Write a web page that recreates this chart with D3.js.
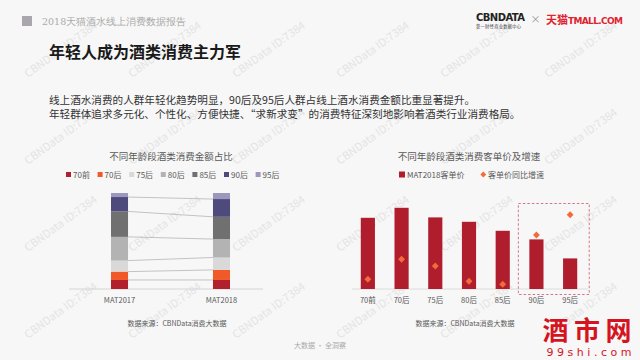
<!DOCTYPE html>
<html>
<head>
<meta charset="utf-8">
<script src="https://cdn.jsdelivr.net/npm/d3@7"></script>
<style>
  html, body { margin: 0; padding: 0; background: #f7f7f7; }
  svg { display: block; }
</style>
</head>
<body>
<svg id="chart" width="640" height="360"></svg>
<script>
// ---- data ----
const ageGroups = ["70前", "70后", "75后", "80后", "85后", "90后", "95后"];
const periods = ["MAT2017", "MAT2018"];
const share2017 = [9.4, 8.7, 11.5, 24.7, 26.5, 15.0, 4.2];
const share2018 = [9.4, 10.5, 12.9, 19.2, 23.2, 18.5, 6.3];
const unitPrice2018 = [356, 406, 358, 336, 291, 248, 153];
const priceGrowth = [9.7, 29.7, 23.0, 7.7, 4.7, 54.0, 74.3];
const shareColors = ["#b2202e", "#f05a28", "#d9d9d9", "#b3b3b3", "#707070", "#4f4a7c", "#9c98bd"];

const FONT = "'Noto Sans CJK SC', 'Noto Sans', sans-serif";
const svg = d3.select("#chart");

svg.append("rect").attr("width", 640).attr("height", 360).attr("fill", "#f7f7f7");

// watermark pattern
const wm = svg.append("g").attr("class", "watermark");
for (let r = 0; r < 4; r++) {
    for (let c = 0; c < 6; c++) {
        wm.append("text")
            .attr("transform", `translate(${28 + c * 104},${78 + r * 87}) rotate(-36)`)
            .attr("font-family", FONT)
            .attr("font-size", 11)
            .attr("fill", "#e4e4e4")
            .text("CBNData ID:7384");
    }
}

// ---- header ----
svg.append("rect").attr("x", 22).attr("y", 16).attr("width", 10).attr("height", 10).attr("fill", "#a9a7ad");
svg.append("text").attr("x", 42).attr("y", 24.5)
    .attr("font-family", "'DejaVu Serif', serif").attr("font-size", 9.5).attr("fill", "#aaa")
    .text("2018天猫酒水线上消费数据报告");

svg.append("text").attr("x", 49).attr("y", 57.5)
    .attr("font-family", FONT).attr("font-size", 16).attr("font-weight", "bold").attr("fill", "#1a1a1a")
    .text("年轻人成为酒类消费主力军");

// logos
svg.append("text").attr("x", 476).attr("y", 21)
    .attr("font-family", "'DejaVu Sans', sans-serif").attr("font-size", 10).attr("font-weight", "bold")
    .attr("fill", "#222").attr("textLength", 49).text("CBNDATA");
svg.append("text").attr("x", 476).attr("y", 28)
    .attr("font-family", FONT).attr("font-size", 4.2).attr("fill", "#444")
    .attr("textLength", 45).text("第一财经商业数据中心");
svg.append("text").attr("x", 535.5).attr("y", 23).attr("text-anchor", "middle")
    .attr("font-family", FONT).attr("font-size", 10).attr("fill", "#999").text("×");
svg.append("text").attr("x", 546).attr("y", 24)
    .attr("font-family", FONT).attr("font-size", 11).attr("font-weight", "bold").attr("fill", "#e0232e")
    .text("天猫");
svg.append("text").attr("x", 568).attr("y", 23.5)
    .attr("font-family", "'DejaVu Sans', sans-serif").attr("font-size", 9).attr("font-weight", "bold")
    .attr("fill", "#e0232e").attr("textLength", 55).text("TMALL.COM");

// body text
svg.append("text").attr("x", 49).attr("y", 104)
    .attr("font-family", FONT).attr("font-size", 10.6).attr("fill", "#333")
    .text("线上酒水消费的人群年轻化趋势明显，90后及95后人群占线上酒水消费金额比重显著提升。");
svg.append("text").attr("x", 49).attr("y", 117.8)
    .attr("font-family", FONT).attr("font-size", 10.6).attr("fill", "#333")
    .text("年轻群体追求多元化、个性化、方便快捷、“求新求变”的消费特征深刻地影响着酒类行业消费格局。");

// ---- left chart: share of spending ----
const left = svg.append("g").attr("class", "share-chart");
left.append("text").attr("x", 171).attr("y", 160).attr("text-anchor", "middle")
    .attr("font-family", FONT).attr("font-size", 9.5).attr("fill", "#595959")
    .text("不同年龄段酒类消费金额占比");

ageGroups.forEach((g, i) => {
    const lx = 66 + i * 31.6;
    left.append("rect").attr("x", lx).attr("y", 172).attr("width", 5).attr("height", 5).attr("fill", shareColors[i]);
    left.append("text").attr("x", lx + 7).attr("y", 177.5)
        .attr("font-family", FONT).attr("font-size", 8).attr("fill", "#595959").text(g);
});

const xShare = d3.scaleBand().domain(periods).range([68.5, 272.5]).paddingInner(0.833).paddingOuter(0.4167);
const yShare = d3.scaleLinear().domain([0, 100]).range([289, 193]);

const shareRows = periods.map((p, j) => {
    const row = { period: p };
    const vals = j === 0 ? share2017 : share2018;
    ageGroups.forEach((g, i) => row[g] = vals[i]);
    return row;
});
const stacked = d3.stack().keys(ageGroups)(shareRows);

left.append("line").attr("x1", 69).attr("x2", 263).attr("y1", yShare(0)).attr("y2", yShare(0))
    .attr("stroke", "#d4d4d4").attr("stroke-width", 1);

left.selectAll("g.layer").data(stacked).join("g").attr("class", "layer")
    .attr("fill", (d, i) => shareColors[i])
    .selectAll("rect").data(d => d).join("rect")
    .attr("x", d => xShare(d.data.period))
    .attr("y", d => yShare(d[1]))
    .attr("height", d => yShare(d[0]) - yShare(d[1]))
    .attr("width", xShare.bandwidth());

// connector lines between bars
left.selectAll("line.link").data(stacked.slice(0, -1)).join("line").attr("class", "link")
    .attr("x1", xShare("MAT2017") + xShare.bandwidth())
    .attr("x2", xShare("MAT2018"))
    .attr("y1", d => yShare(d[0][1]))
    .attr("y2", d => yShare(d[1][1]))
    .attr("stroke", "#b5b5b5").attr("stroke-width", 0.8);

left.selectAll("text.xlab").data(periods).join("text").attr("class", "xlab")
    .attr("x", d => xShare(d) + xShare.bandwidth() / 2).attr("y", 303)
    .attr("text-anchor", "middle").attr("font-family", FONT).attr("font-size", 7.5).attr("fill", "#595959")
    .text(d => d);

left.append("text").attr("x", 177).attr("y", 326).attr("text-anchor", "middle")
    .attr("font-family", FONT).attr("font-size", 7).attr("fill", "#595959")
    .text("数据来源：CBNData消费大数据");

// ---- right chart: unit price & growth ----
const right = svg.append("g").attr("class", "price-chart");
right.append("text").attr("x", 469).attr("y", 160).attr("text-anchor", "middle")
    .attr("font-family", FONT).attr("font-size", 9.5).attr("fill", "#595959")
    .text("不同年龄段酒类消费客单价及增速");

right.append("rect").attr("x", 399).attr("y", 171.5).attr("width", 6).attr("height", 6).attr("fill", "#b01e2e");
right.append("text").attr("x", 407).attr("y", 177.5)
    .attr("font-family", FONT).attr("font-size", 8).attr("fill", "#595959").text("MAT2018客单价");
right.append("path").attr("d", d3.symbol(d3.symbolDiamond2, 22)())
    .attr("transform", "translate(483.3,174.5)").attr("fill", "#f26b3a");
right.append("text").attr("x", 488).attr("y", 177.5)
    .attr("font-family", FONT).attr("font-size", 8).attr("fill", "#595959").text("客单价同比增速");

const xPrice = d3.scaleBand().domain(ageGroups).range([351, 587]).paddingInner(0.58).paddingOuter(0.29);
const yPrice = d3.scaleLinear().domain([0, 500]).range([289, 189]);
const yGrowth = d3.scaleLinear().domain([0, 100]).range([289, 189]);

right.append("line").attr("x1", 352).attr("x2", 588).attr("y1", 289).attr("y2", 289)
    .attr("stroke", "#dcdcdc").attr("stroke-width", 1);

right.selectAll("rect.bar").data(unitPrice2018).join("rect").attr("class", "bar")
    .attr("x", (d, i) => xPrice(ageGroups[i]))
    .attr("y", d => yPrice(d))
    .attr("width", xPrice.bandwidth())
    .attr("height", d => yPrice(0) - yPrice(d))
    .attr("fill", "#b01e2e");

right.selectAll("path.growth").data(priceGrowth).join("path").attr("class", "growth")
    .attr("d", d3.symbol(d3.symbolDiamond2, 30)())
    .attr("transform", (d, i) => `translate(${xPrice(ageGroups[i]) + xPrice.bandwidth() / 2},${yGrowth(d)})`)
    .attr("fill", "#f26b3a");

// highlight box around 90后/95后
const boxX0 = xPrice("90后") - 11;
const boxX1 = xPrice("95后") + xPrice.bandwidth() + 12;
right.append("rect").attr("x", boxX0).attr("y", 203.5).attr("width", boxX1 - boxX0).attr("height", 91)
    .attr("fill", "none").attr("stroke", "#c9566a").attr("stroke-width", 0.8).attr("stroke-dasharray", "2.5,2");

right.selectAll("text.xlab").data(ageGroups).join("text").attr("class", "xlab")
    .attr("x", d => xPrice(d) + xPrice.bandwidth() / 2).attr("y", 302.5)
    .attr("text-anchor", "middle").attr("font-family", FONT).attr("font-size", 7.5).attr("fill", "#595959")
    .text(d => d);

right.append("text").attr("x", 465).attr("y", 326).attr("text-anchor", "middle")
    .attr("font-family", FONT).attr("font-size", 7).attr("fill", "#595959")
    .text("数据来源：CBNData消费大数据");

// ---- footer ----
svg.append("text").attr("x", 320).attr("y", 347.5).attr("text-anchor", "middle")
    .attr("font-family", FONT).attr("font-size", 7).attr("fill", "#aaa").text("大数据 · 全洞察");

svg.append("text").attr("x", 587).attr("y", 340).attr("text-anchor", "middle")
    .attr("font-family", FONT).attr("font-size", 26).attr("font-weight", "bold").attr("fill", "#d5141f")
    .attr("textLength", 89).text("酒市网");
svg.append("text").attr("x", 589).attr("y", 356).attr("text-anchor", "middle")
    .attr("font-family", "'DejaVu Sans', sans-serif").attr("font-size", 11).attr("fill", "#d5141f")
    .attr("textLength", 85).text("99shi.com");
</script>
</body>
</html>
